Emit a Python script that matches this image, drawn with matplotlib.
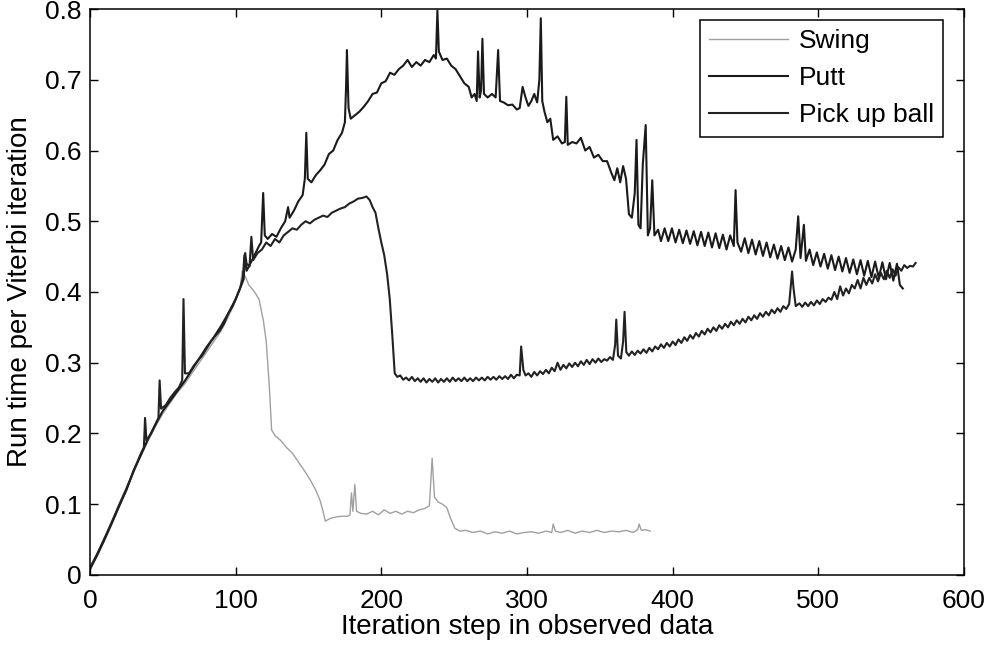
import matplotlib
matplotlib.use("Agg")
import matplotlib.pyplot as plt

plt.rcParams['font.family'] = ['Liberation Sans', 'DejaVu Sans']

# (iteration, run time) pairs
swing_pts = [
    (0, 0.01), (5, 0.03), (10, 0.052), (15, 0.075), (20, 0.098), (25, 0.12),
    (30, 0.145), (35, 0.168), (40, 0.19), (45, 0.21), (50, 0.228), (55, 0.243),
    (60, 0.258), (65, 0.27), (70, 0.285), (75, 0.3), (80, 0.315), (85, 0.33),
    (90, 0.345), (95, 0.365), (100, 0.388), (103, 0.405), (104.5, 0.43),
    (107, 0.42), (109, 0.41), (113, 0.4), (116, 0.39), (119, 0.36), (121, 0.33),
    (123, 0.27), (124.7, 0.205), (127, 0.197), (131, 0.19), (135, 0.18),
    (139, 0.172), (143, 0.16), (147, 0.148), (151, 0.135), (155, 0.12),
    (158, 0.105), (160, 0.09), (161.5, 0.076), (165, 0.08), (169, 0.082),
    (173, 0.083), (177, 0.083), (178.5, 0.085), (179.5, 0.116), (180.5, 0.09),
    (181.8, 0.128), (183, 0.09), (186, 0.087), (190, 0.086), (194, 0.09),
    (198, 0.085), (202, 0.092), (206, 0.087), (210, 0.09), (214, 0.086),
    (218, 0.09), (222, 0.088), (226, 0.092), (230, 0.094), (233, 0.098),
    (234.9, 0.165), (236.5, 0.11), (239, 0.103), (242, 0.1), (245, 0.095),
    (247.5, 0.08), (250.5, 0.066), (254, 0.062), (258, 0.063), (263, 0.06),
    (268, 0.062), (273, 0.058), (278, 0.061), (283, 0.059), (288, 0.062),
    (293, 0.058), (298, 0.06), (303, 0.061), (308, 0.059), (313, 0.062),
    (317, 0.06), (318, 0.072), (319.5, 0.062), (323, 0.06), (328, 0.063),
    (333, 0.059), (338, 0.062), (343, 0.06), (348, 0.063), (353, 0.06),
    (358, 0.062), (363, 0.061), (368, 0.063), (373, 0.06), (376, 0.064),
    (377, 0.072), (378.5, 0.063), (381, 0.064), (384.6, 0.062),
]

putt_pts = [
    (0, 0.008), (5, 0.028), (10, 0.05), (15, 0.073), (20, 0.097), (25, 0.12),
    (30, 0.148), (35, 0.17), (40, 0.193), (45, 0.213), (50, 0.232), (55, 0.246),
    (60, 0.26), (65, 0.274), (70, 0.29), (75, 0.306), (80, 0.322), (85, 0.336),
    (90, 0.352), (95, 0.37), (100, 0.39), (103, 0.405), (105, 0.42), (106, 0.452),
    (107.5, 0.43), (110, 0.44), (113, 0.452), (116, 0.465), (117.5, 0.47),
    (118.9, 0.54), (120, 0.48), (122, 0.475), (125, 0.482), (128, 0.478),
    (131, 0.49), (134, 0.5), (136, 0.52), (137, 0.505), (140, 0.515),
    (143, 0.528), (146, 0.537), (147.5, 0.56), (148.5, 0.625), (149.5, 0.56),
    (152, 0.555), (155, 0.565), (158, 0.572), (161, 0.58), (164, 0.595),
    (167, 0.6), (170, 0.615), (173, 0.625), (175, 0.64), (175.8, 0.69),
    (176.4, 0.742), (177.5, 0.66), (179, 0.645), (182, 0.65), (185, 0.655),
    (188, 0.662), (191, 0.67), (194, 0.68), (197, 0.682), (200, 0.695),
    (203, 0.698), (206, 0.71), (209, 0.707), (212, 0.715), (215, 0.72),
    (218, 0.728), (221, 0.718), (224, 0.725), (227, 0.72), (230, 0.728),
    (233, 0.725), (236, 0.735), (237.5, 0.73), (238.5, 0.798), (239.5, 0.74),
    (242, 0.728), (245, 0.73), (248, 0.72), (251, 0.715), (254, 0.705),
    (257, 0.695), (260, 0.69), (262, 0.675), (264, 0.68), (265.5, 0.67),
    (266.4, 0.74), (267.5, 0.675), (268.5, 0.685), (269.4, 0.758), (270.5, 0.68),
    (273, 0.675), (276, 0.68), (278.5, 0.675), (280.2, 0.742), (281.5, 0.67),
    (284, 0.668), (287, 0.664), (290, 0.665), (293, 0.658), (295, 0.66),
    (297, 0.69), (299, 0.675), (301, 0.663), (303, 0.67), (305, 0.68),
    (307, 0.668), (308.5, 0.7), (309.5, 0.787), (310.5, 0.67), (312, 0.655),
    (314, 0.64), (316, 0.645), (318, 0.615), (321, 0.62), (324, 0.61),
    (326, 0.612), (327, 0.676), (328, 0.608), (331, 0.612), (334, 0.61),
    (337, 0.618), (340, 0.6), (343, 0.605), (346, 0.59), (349, 0.594),
    (352, 0.585), (355, 0.585), (358, 0.568), (360, 0.558), (362, 0.575),
    (364, 0.555), (366, 0.578), (368, 0.56), (370, 0.51), (372, 0.505),
    (374, 0.54), (375.2, 0.615), (376.5, 0.495), (378, 0.49), (379.5, 0.58),
    (381.5, 0.636), (383, 0.48), (384.5, 0.49), (386, 0.558), (387.5, 0.48),
    (390, 0.488), (392, 0.472), (394.5, 0.49), (397, 0.472), (399.5, 0.49),
    (402, 0.47), (404.5, 0.488), (407, 0.469), (409.5, 0.487), (412, 0.468),
    (414.5, 0.486), (417, 0.466), (419.5, 0.485), (422, 0.465), (424.5, 0.484),
    (427, 0.463), (429.5, 0.483), (432, 0.462), (434.5, 0.481), (437, 0.46),
    (439.5, 0.48), (442, 0.465), (443.2, 0.544), (444.5, 0.47), (447, 0.457),
    (449.5, 0.476), (452, 0.455), (454.5, 0.474), (457, 0.453), (459.5, 0.472),
    (462, 0.451), (464.5, 0.47), (467, 0.449), (469.5, 0.467), (472, 0.447),
    (474.5, 0.465), (477, 0.445), (479.5, 0.463), (482, 0.443), (484.5, 0.46),
    (486.2, 0.507), (487.8, 0.448), (490.1, 0.495), (491.5, 0.444), (494, 0.46),
    (496.5, 0.438), (499, 0.456), (501.5, 0.436), (504, 0.454), (506.5, 0.433),
    (509, 0.452), (511.5, 0.431), (514, 0.45), (516.5, 0.429), (519, 0.448),
    (521.5, 0.427), (524, 0.446), (526.5, 0.425), (529, 0.445), (531.5, 0.423),
    (534, 0.444), (536.5, 0.421), (539, 0.443), (541.5, 0.42), (544, 0.442),
    (546.5, 0.418), (549, 0.441), (551.5, 0.416), (554, 0.44), (556, 0.41),
    (558, 0.405),
]

pickup_pts = [
    (0, 0.01), (5, 0.03), (10, 0.052), (15, 0.075), (20, 0.099), (25, 0.122),
    (30, 0.147), (35, 0.172), (37, 0.18), (37.8, 0.222), (38.8, 0.19), (42, 0.2),
    (45, 0.213), (47, 0.222), (47.8, 0.275), (48.8, 0.235), (52, 0.24),
    (55, 0.25), (58, 0.258), (61, 0.265), (63.3, 0.275), (64.2, 0.39),
    (65.2, 0.285), (68, 0.285), (71, 0.295), (74, 0.303), (77, 0.31), (80, 0.32),
    (83, 0.33), (86, 0.338), (89, 0.345), (92, 0.355), (95, 0.37), (98, 0.38),
    (101, 0.395), (104, 0.41), (105.5, 0.418), (106.5, 0.455), (107.5, 0.44),
    (109.5, 0.436), (110.8, 0.478), (112, 0.445), (115, 0.455), (118, 0.46),
    (121, 0.47), (124, 0.465), (127, 0.475), (130, 0.47), (133, 0.48),
    (136, 0.485), (139, 0.49), (142, 0.488), (145, 0.495), (148, 0.5),
    (151, 0.497), (154, 0.502), (157, 0.505), (160, 0.508), (163, 0.506),
    (166, 0.512), (169, 0.515), (172, 0.518), (175, 0.52), (178, 0.525),
    (181, 0.528), (184, 0.532), (187, 0.533), (189.8, 0.535), (192, 0.53),
    (194, 0.52), (196, 0.512), (198, 0.49), (200, 0.47), (202, 0.452),
    (204, 0.425), (205.8, 0.39), (207.5, 0.34), (209.2, 0.285), (211, 0.28),
    (213, 0.282), (215, 0.276), (217, 0.279), (219, 0.275), (221, 0.28),
    (223, 0.274), (225, 0.278), (227, 0.273), (229, 0.278), (231, 0.272),
    (233, 0.277), (235, 0.273), (237, 0.278), (239, 0.272), (241, 0.277),
    (243, 0.273), (245, 0.278), (247, 0.273), (249, 0.279), (251, 0.274),
    (253, 0.278), (255, 0.274), (257, 0.279), (259, 0.274), (261, 0.278),
    (263, 0.274), (265, 0.279), (267, 0.275), (269, 0.279), (271, 0.275),
    (273, 0.28), (275, 0.276), (277, 0.28), (279, 0.276), (281, 0.281),
    (283, 0.277), (285, 0.281), (287, 0.277), (289, 0.283), (291, 0.278),
    (293, 0.283), (295, 0.282), (296, 0.323), (297.5, 0.29), (299, 0.282),
    (301, 0.285), (303, 0.28), (305, 0.287), (307, 0.282), (309, 0.288),
    (311, 0.284), (313, 0.29), (315, 0.285), (317, 0.293), (319, 0.288),
    (321, 0.3), (323, 0.29), (325, 0.297), (327, 0.292), (329, 0.299),
    (331, 0.294), (333, 0.3), (335, 0.295), (337, 0.302), (339, 0.297),
    (341, 0.304), (343, 0.298), (345, 0.305), (347, 0.3), (349, 0.306),
    (351, 0.301), (353, 0.305), (355, 0.303), (357, 0.308), (359, 0.304),
    (360.5, 0.325), (361.3, 0.361), (362.5, 0.31), (364.5, 0.306), (366, 0.33),
    (367, 0.372), (368.2, 0.315), (370, 0.31), (372, 0.316), (374, 0.311),
    (376, 0.317), (378, 0.313), (380, 0.319), (382, 0.314), (384, 0.321),
    (386, 0.316), (388, 0.323), (390, 0.319), (392, 0.326), (394, 0.321),
    (396, 0.328), (398, 0.323), (400, 0.33), (402, 0.325), (404, 0.333),
    (406, 0.328), (408, 0.336), (410, 0.331), (412, 0.339), (414, 0.334),
    (416, 0.342), (418, 0.337), (420, 0.345), (422, 0.34), (424, 0.348),
    (426, 0.343), (428, 0.35), (430, 0.345), (432, 0.353), (434, 0.348),
    (436, 0.355), (438, 0.35), (440, 0.358), (442, 0.353), (444, 0.36),
    (446, 0.355), (448, 0.362), (450, 0.357), (452, 0.365), (454, 0.36),
    (456, 0.367), (458, 0.362), (460, 0.37), (462, 0.365), (464, 0.372),
    (466, 0.367), (468, 0.375), (470, 0.37), (472, 0.377), (474, 0.372),
    (476, 0.38), (478, 0.376), (480, 0.383), (481.2, 0.41), (482, 0.429),
    (483, 0.405), (484.5, 0.38), (487, 0.384), (489, 0.379), (491, 0.385),
    (493, 0.38), (495, 0.386), (497, 0.381), (499, 0.388), (501, 0.383),
    (503, 0.39), (505, 0.386), (507, 0.392), (509, 0.389), (511, 0.4),
    (513, 0.39), (515, 0.408), (517, 0.395), (519, 0.405), (521, 0.398),
    (523, 0.41), (525, 0.405), (527, 0.417), (529, 0.405), (531, 0.42),
    (533, 0.41), (535, 0.42), (537, 0.412), (539, 0.425), (541, 0.415),
    (543, 0.427), (545, 0.418), (547, 0.43), (549, 0.42), (551, 0.432),
    (553, 0.423), (555, 0.435), (557, 0.43), (559, 0.438), (561, 0.434),
    (563, 0.437), (565, 0.436), (566.8, 0.441),
]

labels = ["Swing", "Putt", "Pick up ball"]
xticks = [0, 100, 200, 300, 400, 500, 600]
yticks = [0, 0.1, 0.2, 0.3, 0.4, 0.5, 0.6, 0.7, 0.8]

fig = plt.figure(figsize=(9.9, 6.46), dpi=100)
ax = fig.add_axes([0.0909, 0.110, 0.8828, 0.876])

sx, sy = zip(*swing_pts)
px, py = zip(*putt_pts)
kx, ky = zip(*pickup_pts)
ax.plot(sx, sy, color='#a0a0a0', lw=1.0, label=labels[0])
ax.plot(px, py, color='#1a1a1a', lw=1.5, label=labels[1])
ax.plot(kx, ky, color='#222222', lw=1.5, label=labels[2])

ax.set_xlim(0, 600)
ax.set_ylim(0, 0.8)
ax.set_xticks(xticks)
ax.set_yticks(yticks)
ax.set_yticklabels(["0" if v == 0 else f"{v:.1f}" for v in yticks])
ax.tick_params(direction='in', length=6, width=1.0, top=True, right=True,
               labelsize=19, pad=6)
ax.tick_params(axis='x', pad=10)
for s in ax.spines.values():
    s.set_linewidth(1.1)

ax.set_xlabel("Iteration step in observed data", fontsize=20, labelpad=1)
ax.set_ylabel("Run time per Viterbi iteration", fontsize=20, labelpad=9)

leg = ax.legend(loc='upper right', bbox_to_anchor=(0.976, 0.981),
                borderaxespad=0, fontsize=19, handlelength=3.0,
                handletextpad=0.4, fancybox=False, framealpha=1,
                borderpad=0.35)
leg.get_frame().set_edgecolor('black')
leg.get_frame().set_linewidth(1.1)

fig.savefig("out.png", dpi=100)
